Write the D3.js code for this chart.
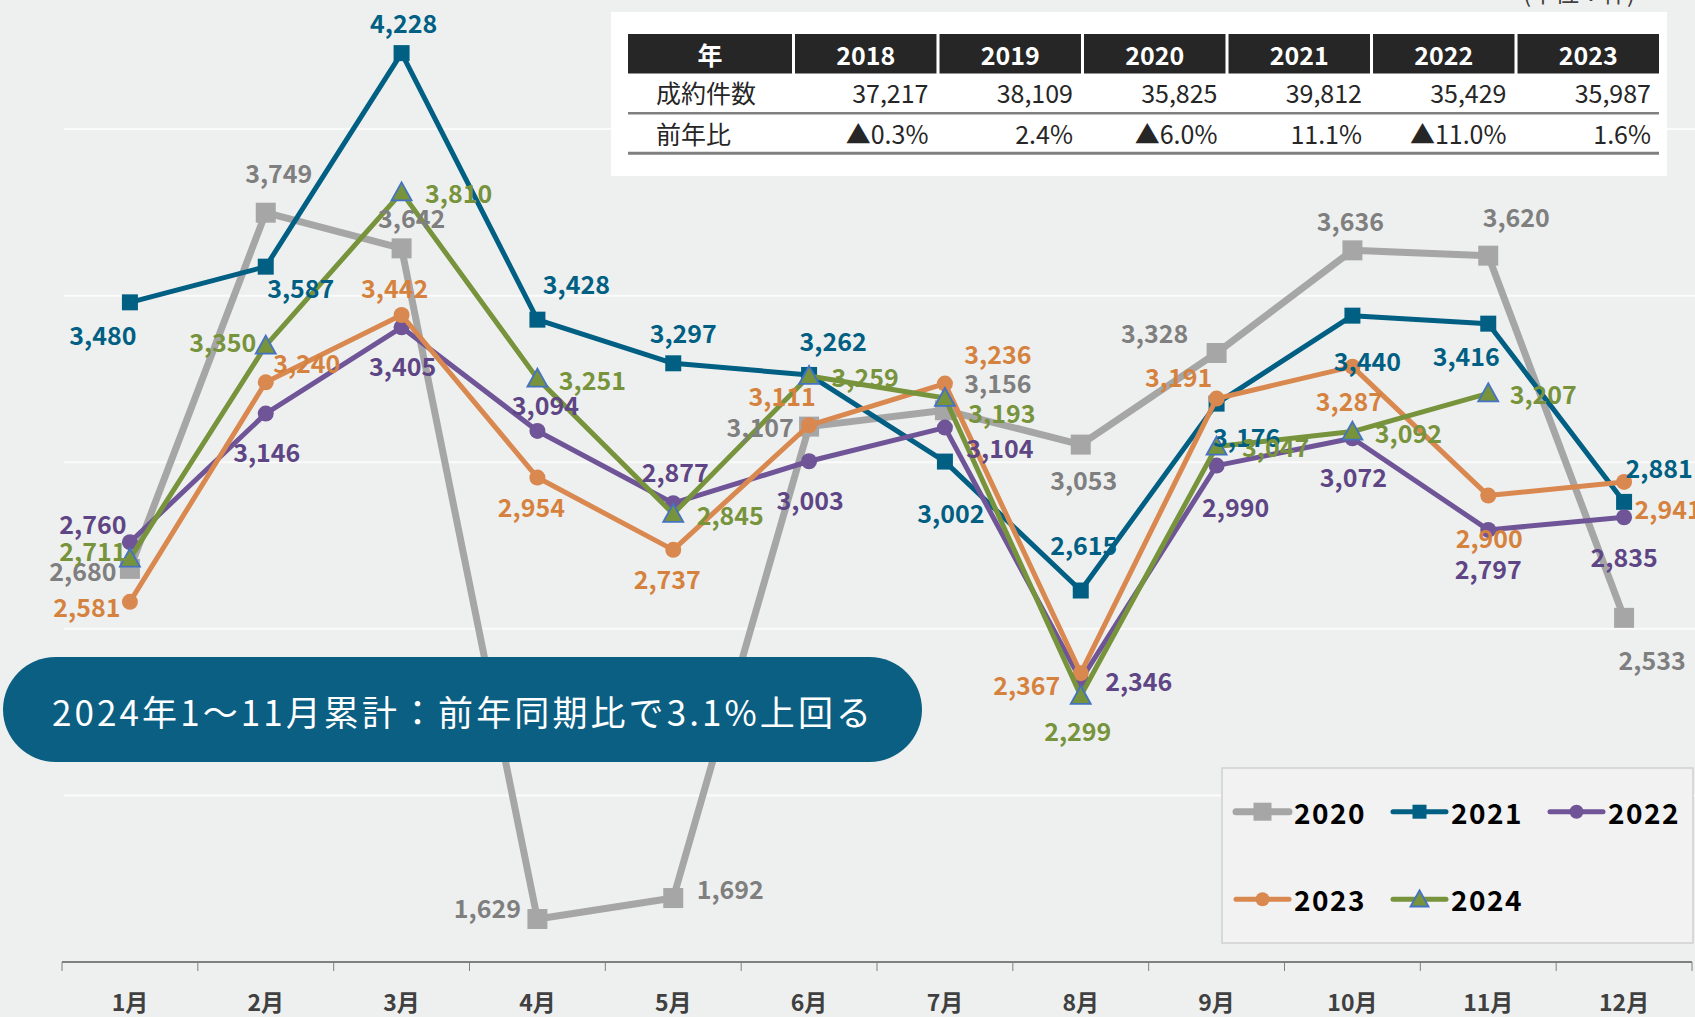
<!DOCTYPE html>
<html>
<head>
<meta charset="utf-8">
<script src="https://cdn.jsdelivr.net/npm/d3@7"></script>
<style>
  body { margin: 0; background: #eef0ef; }
  svg { display: block; font-family: "Noto Sans CJK JP", "Noto Sans", sans-serif; }
</style>
</head>
<body>
<svg id="chart"></svg>
<script>
// ---- data ----
const months = ['1月','2月','3月','4月','5月','6月','7月','8月','9月','10月','11月','12月']
const seriesNames = ['2020','2021','2022','2023','2024']
const v2020 = [2680, 3749, 3642, 1629, 1692, 3107, 3156, 3053, 3328, 3636, 3620, 2533]
const v2021 = [3480, 3587, 4228, 3428, 3297, 3262, 3002, 2615, 3176, 3440, 3416, 2881]
const v2022 = [2760, 3146, 3405, 3094, 2877, 3003, 3104, 2346, 2990, 3072, 2797, 2835]
const v2023 = [2581, 3240, 3442, 2954, 2737, 3111, 3236, 2367, 3191, 3287, 2900, 2941]
const v2024 = [2711, 3350, 3810, 3251, 2845, 3259, 3193, 2299, 3047, 3092, 3207]
const yTicks = [2000, 2500, 3000, 3500, 4000]

const tableYears = ['2018','2019','2020','2021','2022','2023']
const tableCounts = ['37,217','38,109','35,825','39,812','35,429','35,987']
const tableYoY = ['▲0.3%','2.4%','▲6.0%','11.1%','▲11.0%','1.6%']
const headline = '2024年1～11月累計：前年同期比で3.1%上回る'
const unitText = '(単位：件)'

// label placement (offset from the marker, px)
const labelOffsets = {
  '2020': [[-47,1],[13,-41],[10,-31],[-50,-12],[57,-10],[-49,-1],[53,-28],[3,34],[-62,-21],[-2,-30],[28,-40],[28,41]],
  '2021': [[-27,32],[35,20],[2,-31],[39,-37],[10,-31],[24,-35],[6,50],[3,-47],[30,32],[15,44],[-22,31],[35,-35]],
  '2022': [[-37,-19],[1,37],[1,38],[8,-27],[2,-32],[1,38],[55,19],[58,0],[19,40],[1,38],[0,38],[0,39]],
  '2023': [[-43,4],[41,-20],[-7,-28],[-6,28],[-6,28],[-27,-30],[53,-31],[-54,11],[-38,-23],[-3,33],[1,41],[44,26]],
  '2024': [[-37,-9],[-43,-5],[57,0],[55,0],[57,0],[56,0],[57,14],[-3,34],[59,-1],[56,0],[55,0]]
}

const styles = {
  '2020': {line: '#a6a6a6', label: '#7f7f7f', width: 7, marker: 'square', size: 20},
  '2021': {line: '#005f83', label: '#005f83', width: 5, marker: 'square', size: 16},
  '2022': {line: '#6f5597', label: '#5e4585', width: 5, marker: 'circle', size: 16},
  '2023': {line: '#d9884f', label: '#d6823f', width: 5, marker: 'circle', size: 16},
  '2024': {line: '#77933c', label: '#77933c', width: 5, marker: 'triangle', size: 20}
}

const seriesValues = [v2020, v2021, v2022, v2023, v2024]
const series = seriesNames.map((name, i) => ({
  name,
  values: seriesValues[i],
  ...styles[name]
}))

// ---- layout ----
const W = 1695, H = 1017

const svg = d3.select('#chart')
  .attr('width', W)
  .attr('height', H)

svg.append('rect')
  .attr('width', W).attr('height', H)
  .attr('fill', '#eef0ef')

const x = d3.scaleBand()
  .domain(months)
  .range([62, 1692])

const y = d3.scaleLinear()
  .domain([1500, 4500])
  .range([962, -37.5])

const cx = i => x(months[i]) + x.bandwidth() / 2

// gridlines
svg.append('g')
  .selectAll('line')
  .data(yTicks)
  .enter()
  .append('line')
  .attr('x1', 64).attr('x2', W)
  .attr('y1', d => y(d)).attr('y2', d => y(d))
  .attr('stroke', '#fbfbfb')
  .attr('stroke-width', 2)

// x axis: labels from d3.axisBottom, ticks on category boundaries
const xAxis = svg.append('g')
  .attr('transform', `translate(0,${y(1500)})`)
  .call(d3.axisBottom(x).tickSize(0).tickPadding(33))
xAxis.select('.domain').remove()
xAxis.selectAll('text')
  .attr('font-family', '"Noto Sans CJK JP", sans-serif')
  .attr('font-size', 23)
  .attr('font-weight', 700)
  .attr('fill', '#404040')

svg.append('line')
  .attr('x1', x.range()[0]).attr('x2', x.range()[1])
  .attr('y1', y(1500)).attr('y2', y(1500))
  .attr('stroke', '#7f7f7f').attr('stroke-width', 2)

svg.append('g')
  .selectAll('line')
  .data(d3.range(months.length + 1))
  .enter()
  .append('line')
  .attr('x1', i => x.range()[0] + i * x.step())
  .attr('x2', i => x.range()[0] + i * x.step())
  .attr('y1', y(1500)).attr('y2', y(1500) + 9)
  .attr('stroke', '#7f7f7f').attr('stroke-width', 1)

// marker shapes
function markerPath(type, s) {
  const h = s / 2
  if (type === 'square') return `M${-h},${-h}H${h}V${h}H${-h}Z`
  if (type === 'circle') return `M${-h},0A${h},${h} 0 1,0 ${h},0A${h},${h} 0 1,0 ${-h},0Z`
  return `M0,${-s * 0.5}L${h},${s * 0.4}L${-h},${s * 0.4}Z`
}

function drawMarker(g, d, px, py) {
  g.append('path')
    .attr('d', markerPath(d.marker, d.size))
    .attr('transform', `translate(${px},${py})`)
    .attr('fill', d.line)
    .attr('stroke', d.marker === 'triangle' ? '#4472c4' : 'none')
    .attr('stroke-width', 1.8)
}

const lineGen = d3.line()
  .x((d, i) => cx(i))
  .y(d => y(d))

const plot = svg.append('g')
series.forEach(s => {
  const g = plot.append('g')
  g.append('path')
    .datum(s.values)
    .attr('d', lineGen)
    .attr('fill', 'none')
    .attr('stroke', s.line)
    .attr('stroke-width', s.width)
    .attr('stroke-linejoin', 'round')
  s.values.forEach((v, i) => drawMarker(g, s, cx(i), y(v)))
})

// data labels on top
const labels = svg.append('g')
series.forEach(s => {
  labels.append('g')
    .selectAll('text')
    .data(s.values)
    .enter()
    .append('text')
    .attr('x', (v, i) => cx(i) + labelOffsets[s.name][i][0])
    .attr('y', (v, i) => y(v) + labelOffsets[s.name][i][1])
    .attr('text-anchor', 'middle')
    .attr('dominant-baseline', 'central')
    .attr('font-size', 25)
    .attr('font-weight', 700)
    .attr('fill', s.label)
    .text(d3.format(','))
})

// headline pill
svg.append('rect')
  .attr('x', 3).attr('y', 657)
  .attr('width', 919).attr('height', 105)
  .attr('rx', 52.5)
  .attr('fill', '#0b5f83')
svg.append('text')
  .attr('x', 52).attr('y', 710)
  .attr('dominant-baseline', 'central')
  .attr('font-size', 35)
  .attr('fill', '#ffffff')
  .attr('textLength', 819)
  .attr('lengthAdjust', 'spacing')
  .text(headline)

// legend
const legend = svg.append('g')
legend.append('rect')
  .attr('x', 1222).attr('y', 768)
  .attr('width', 471).attr('height', 175)
  .attr('fill', '#f2f2f2')
  .attr('stroke', '#d0d0d0')
  .attr('stroke-width', 1.5)

const legendCol = d3.scalePoint().domain([0, 1, 2]).range([1236, 1550])
const legendRow = d3.scalePoint().domain([0, 1]).range([811.7, 899.3])

series.forEach((s, i) => {
  const lx = legendCol(i % 3)
  const ly = legendRow(Math.floor(i / 3))
  const g = legend.append('g')
  g.append('line')
    .attr('x1', lx).attr('x2', lx + 53)
    .attr('y1', ly).attr('y2', ly)
    .attr('stroke', s.line)
    .attr('stroke-width', s.width)
    .attr('stroke-linecap', 'round')
  drawMarker(g, {...s, size: s.size - 2}, lx + 26.5, ly)
  g.append('text')
    .attr('x', lx + 58).attr('y', ly)
    .attr('dominant-baseline', 'central')
    .attr('font-size', 28)
    .attr('font-weight', 700)
    .attr('letter-spacing', 1.5)
    .attr('fill', '#000')
    .text(s.name)
})

// summary table
const tbl = svg.append('g')
tbl.append('rect')
  .attr('x', 611).attr('y', 12)
  .attr('width', 1056).attr('height', 164)
  .attr('fill', '#ffffff')

const col = d3.scaleBand()
  .domain(tableYears)
  .range([795, 1659])
  .paddingInner(0.021)
const firstCol = {x: 628, w: 164}

tbl.append('rect')
  .attr('x', firstCol.x).attr('y', 34)
  .attr('width', firstCol.w).attr('height', 39.5)
  .attr('fill', '#262626')
tbl.selectAll('rect.head')
  .data(tableYears)
  .enter()
  .append('rect')
  .attr('class', 'head')
  .attr('x', d => col(d)).attr('y', 34)
  .attr('width', col.bandwidth()).attr('height', 39.5)
  .attr('fill', '#262626')

const headText = tbl.append('g')
  .attr('font-size', 25)
  .attr('font-weight', 700)
  .attr('fill', '#ffffff')
  .attr('text-anchor', 'middle')
  .attr('dominant-baseline', 'central')
headText.append('text')
  .attr('x', firstCol.x + firstCol.w / 2).attr('y', 53.5)
  .text('年')
headText.selectAll('text.yr')
  .data(tableYears)
  .enter()
  .append('text')
  .attr('class', 'yr')
  .attr('x', d => col(d) + col.bandwidth() / 2).attr('y', 53.5)
  .text(d => d)

const rows = [
  {label: '成約件数', values: tableCounts, cy: 91.5},
  {label: '前年比', values: tableYoY, cy: 133}
]
rows.forEach(r => {
  const g = tbl.append('g')
    .attr('font-size', 25)
    .attr('fill', '#262626')
    .attr('dominant-baseline', 'central')
  g.append('text')
    .attr('x', 656).attr('y', r.cy)
    .text(r.label)
  g.selectAll('text.v')
    .data(r.values)
    .enter()
    .append('text')
    .attr('class', 'v')
    .attr('x', (d, i) => col(tableYears[i]) + col.bandwidth() - 8)
    .attr('y', r.cy)
    .attr('text-anchor', 'end')
    .text(d => d)
})

tbl.append('line')
  .attr('x1', 628).attr('x2', 1659)
  .attr('y1', 113.3).attr('y2', 113.3)
  .attr('stroke', '#808080').attr('stroke-width', 2.5)
tbl.append('line')
  .attr('x1', 628).attr('x2', 1659)
  .attr('y1', 153.3).attr('y2', 153.3)
  .attr('stroke', '#808080').attr('stroke-width', 3)

// unit note (cut by the top edge, as in the source)
svg.append('text')
  .attr('x', 1523).attr('y', 2)
  .attr('font-size', 24)
  .attr('fill', '#404040')
  .text(unitText)
</script>
</body>
</html>
